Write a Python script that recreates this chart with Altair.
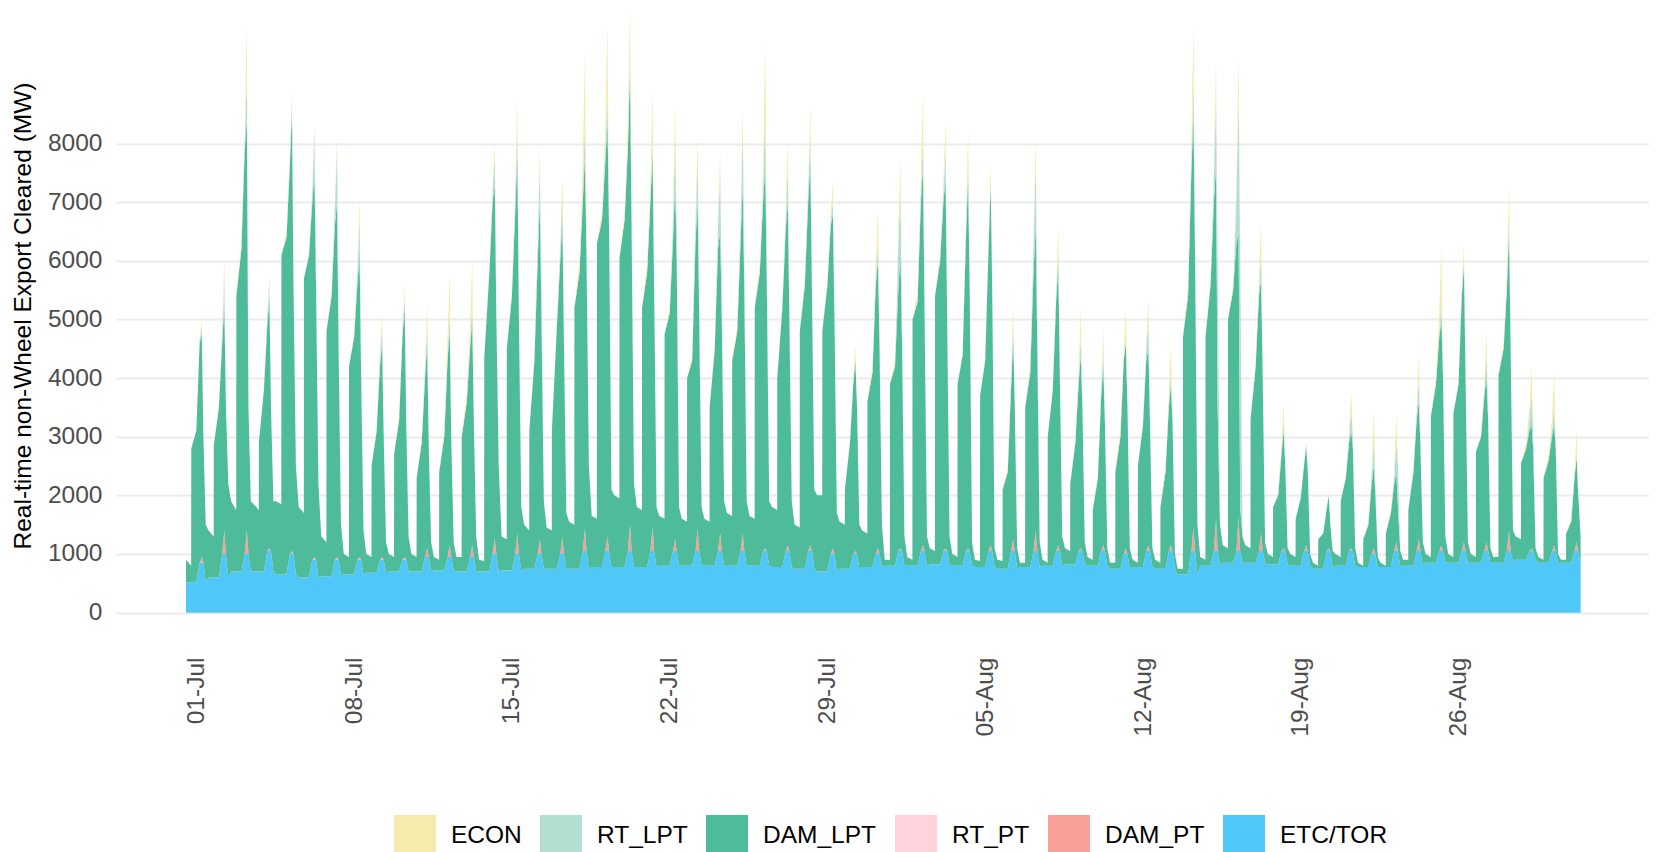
import altair as alt
import pandas as pd

# ---------------- data ----------------
SERIES = ["ECON", "RT_LPT", "DAM_LPT", "RT_PT", "DAM_PT", "ETC/TOR"]
COLORS = ["#F4EBAD", "#B3DFD3", "#4EBB9B", "#FFD2DC", "#F8A199", "#4FC7F7"]
STACK_ORDER = {"ETC/TOR": 0, "DAM_PT": 1, "RT_PT": 2, "DAM_LPT": 3, "RT_LPT": 4, "ECON": 5}

# sample hours within each day (local time)
HOURS = [0, 5.5, 5.6, 11, 14.5, 16.8, 18.5, 21]

TICK_DAYS = [0.4625, 7.4625, 14.4625, 21.4625, 28.4625, 35.4625, 42.4625, 49.4625, 56.4625]
TICK_LABELS = ["01-Jul", "08-Jul", "15-Jul", "22-Jul", "29-Jul", "05-Aug", "12-Aug", "19-Aug", "26-Aug"]
Y_TICKS = [0, 1000, 2000, 3000, 4000, 5000, 6000, 7000, 8000]

# top of the DAM_LPT layer (MW) at the HOURS above, one row per day
GREEN_TOP = [
    [900, 800, 2800, 3100, 4600, 4750, 3000, 1500],
    [1400, 1300, 2850, 3500, 4600, 5250, 3500, 2200],
    [1900, 1750, 5400, 6200, 7900, 8400, 3500, 1900],
    [1850, 1750, 2900, 3800, 4900, 5350, 3500, 1900],
    [1900, 1850, 6100, 6400, 7600, 8550, 5500, 2500],
    [1800, 1700, 5700, 6100, 7000, 7500, 5500, 2200],
    [1300, 1200, 4800, 5400, 6600, 7000, 4500, 1500],
    [1000, 950, 4200, 4700, 5600, 6100, 4000, 1400],
    [1000, 950, 2500, 3100, 4200, 4600, 3000, 1200],
    [1000, 950, 2700, 3300, 4700, 5250, 3200, 1300],
    [1000, 950, 2300, 2900, 4000, 4600, 2800, 1200],
    [950, 900, 2400, 3000, 4300, 4800, 2900, 1200],
    [950, 950, 3000, 3600, 4500, 5000, 3200, 1300],
    [900, 880, 4350, 5800, 7000, 7300, 5000, 2500],
    [1300, 1250, 4500, 5400, 6800, 7800, 5000, 1800],
    [1500, 1400, 3100, 4300, 6000, 7000, 5000, 1900],
    [1450, 1400, 3100, 4900, 6000, 6700, 4500, 1700],
    [1550, 1500, 5200, 5800, 7000, 7800, 6000, 2500],
    [1650, 1600, 6300, 6700, 7700, 8350, 6500, 2100],
    [2000, 1950, 6050, 6700, 7900, 9250, 6500, 2200],
    [1800, 1750, 5200, 5800, 7000, 7850, 5500, 1800],
    [1650, 1600, 4750, 5100, 6300, 7300, 6000, 1800],
    [1600, 1550, 4000, 4300, 6300, 7000, 5000, 1800],
    [1600, 1550, 3500, 4500, 6200, 6500, 5000, 1900],
    [1700, 1650, 4300, 4800, 6300, 7300, 5500, 1900],
    [1650, 1600, 5200, 5800, 7000, 7600, 5500, 1900],
    [1800, 1750, 4000, 5200, 6500, 7000, 5000, 1900],
    [1500, 1450, 4800, 5600, 7000, 7700, 5500, 2100],
    [2000, 2000, 4800, 5600, 6600, 6800, 5000, 1700],
    [1550, 1500, 2100, 2900, 3900, 4300, 3500, 1500],
    [1400, 1350, 3600, 4100, 5600, 6000, 4500, 1500],
    [900, 900, 3900, 4200, 5500, 6100, 4500, 1300],
    [950, 900, 5000, 5300, 7000, 7600, 5000, 1300],
    [1100, 1050, 5400, 6000, 7000, 7400, 5000, 1300],
    [1000, 950, 3900, 4400, 6400, 7400, 5500, 1200],
    [900, 880, 3700, 4300, 6200, 7300, 5500, 1100],
    [900, 880, 2100, 2400, 3800, 4700, 3500, 1100],
    [850, 850, 3500, 4100, 5800, 6600, 4500, 1200],
    [900, 850, 3000, 3800, 5300, 5900, 4000, 1300],
    [1100, 1050, 2200, 2900, 3900, 4400, 3500, 1200],
    [950, 900, 1750, 2300, 3700, 4200, 3200, 1100],
    [850, 850, 2400, 3000, 4300, 4600, 3500, 1100],
    [900, 850, 2500, 3200, 4300, 4500, 3200, 1100],
    [900, 850, 1800, 2400, 3500, 3900, 3200, 1000],
    [750, 750, 4700, 5400, 7500, 8500, 6000, 1500],
    [950, 900, 4700, 5600, 7000, 7600, 3500, 1500],
    [1150, 1100, 5000, 5500, 6300, 6500, 1800, 1300],
    [1150, 1100, 3300, 4200, 5400, 5700, 4000, 1200],
    [1000, 950, 1800, 2000, 2700, 3100, 2500, 1100],
    [1000, 950, 1600, 1950, 2500, 2850, 2400, 1000],
    [850, 800, 1250, 1350, 1750, 2000, 1500, 1050],
    [1000, 950, 1900, 2300, 2900, 3100, 2800, 1100],
    [850, 800, 1250, 1500, 2200, 2500, 2000, 950],
    [850, 800, 1350, 1700, 2200, 2400, 1800, 1050],
    [900, 900, 1750, 2400, 3300, 3600, 2800, 1200],
    [1000, 950, 3350, 3900, 4700, 5000, 4000, 1300],
    [1000, 950, 3400, 3900, 5400, 5900, 4000, 1200],
    [1000, 950, 2750, 3000, 3700, 4000, 3300, 1100],
    [950, 950, 4050, 4500, 5500, 6500, 4500, 1400],
    [1300, 1250, 2550, 2800, 3100, 3200, 2800, 1100],
    [950, 900, 2300, 2600, 3000, 3200, 2800, 1000],
    [900, 900, 1350, 1550, 2300, 2650, 2000, 1300],
]

# ETC/TOR level overnight and around the daily peak
ETC_NIGHT = [520, 600, 700, 700, 650, 600, 620, 650, 680, 700, 700, 720, 700, 700, 720, 750,
             750, 750, 780, 780, 780, 800, 800, 800, 800, 800, 780, 750, 700, 750, 780, 800,
             800, 820, 800, 780, 750, 780, 800, 820, 800, 750, 780, 750, 650, 800, 850, 850,
             820, 800, 750, 800, 780, 780, 800, 850, 850, 850, 850, 900, 850, 850]
ETC_PEAK = [850, 1000, 1000, 1050, 1000, 900, 900, 900, 900, 900, 950, 950, 950, 1000, 1000, 1000,
            1000, 1050, 1050, 1050, 1050, 1050, 1050, 1050, 1050, 1050, 1050, 1050, 1000, 1000, 1000, 1050,
            1050, 1050, 1050, 1050, 1050, 1050, 1050, 1050, 1050, 1000, 1050, 1050, 1050, 1050, 1050, 1050,
            1050, 1050, 1050, 1050, 1000, 1050, 1050, 1050, 1050, 1050, 1050, 1050, 1050, 1050]
# DAM_PT bump at the daily peak
DAM_PT_PEAK = [100, 400, 400, 50, 50, 50, 50, 50, 50, 50, 150, 200, 200, 270, 350, 250,
               300, 380, 250, 450, 400, 200, 380, 300, 300, 50, 100, 100, 100, 50, 100, 50,
               100, 50, 50, 100, 200, 350, 100, 50, 100, 100, 100, 100, 400, 550, 600, 300,
               50, 100, 50, 50, 100, 150, 200, 100, 150, 150, 350, 50, 100, 150]
# RT_LPT at 14.5h, 16.8h, 18.5h
RT_LPT_VALS = [
    [50, 150, 0], [100, 500, 0], [100, 750, 0], [100, 300, 0], [0, 100, 0], [200, 700, 300],
    [300, 900, 300], [200, 650, 200], [100, 300, 0], [50, 150, 0], [100, 300, 0], [100, 300, 0],
    [100, 300, 0], [200, 500, 100], [200, 500, 200], [300, 700, 400], [200, 500, 200], [200, 500, 200],
    [200, 500, 200], [100, 200, 100], [50, 100, 0], [300, 800, 500], [300, 700, 400], [400, 1000, 500],
    [300, 900, 500], [300, 950, 300], [200, 600, 200], [200, 500, 200], [100, 200, 0], [0, 50, 0],
    [100, 300, 100], [800, 1100, 300], [200, 450, 100], [200, 500, 100], [100, 400, 100], [0, 100, 0],
    [100, 200, 0], [500, 1100, 400], [100, 350, 100], [100, 300, 0], [100, 300, 0], [0, 100, 0],
    [200, 500, 100], [50, 200, 0], [200, 600, 200], [400, 1200, 2500], [800, 2300, 4300], [100, 400, 100],
    [50, 150, 0], [0, 0, 0], [0, 0, 0], [100, 350, 200], [100, 450, 100], [100, 500, 700],
    [100, 400, 100], [100, 300, 100], [50, 150, 0], [100, 400, 100], [100, 200, 100], [200, 500, 300],
    [100, 300, 100], [0, 50, 0],
]
# ECON at 11h, 14.5h, 16.8h
ECON_VALS = [
    [0, 50, 100], [50, 100, 300], [100, 150, 900], [0, 50, 100], [100, 150, 250], [50, 100, 150],
    [50, 100, 250], [50, 100, 300], [50, 100, 200], [50, 100, 200], [100, 200, 400], [150, 300, 700],
    [150, 300, 750], [50, 100, 200], [100, 200, 500], [50, 100, 300], [50, 150, 300], [200, 500, 1300],
    [150, 400, 1200], [100, 300, 900], [150, 300, 950], [100, 200, 600], [100, 150, 450], [50, 150, 350],
    [100, 150, 450], [150, 300, 1250], [50, 150, 400], [100, 150, 450], [50, 100, 350], [50, 100, 200],
    [100, 200, 600], [100, 200, 550], [150, 300, 850], [100, 150, 500], [50, 150, 450], [50, 100, 300],
    [50, 150, 400], [100, 150, 450], [50, 100, 350], [100, 150, 500], [50, 100, 350], [100, 150, 500],
    [50, 100, 350], [100, 150, 500], [150, 300, 1000], [100, 200, 650], [100, 200, 750], [100, 200, 600],
    [50, 100, 350], [0, 0, 50], [0, 0, 50], [50, 100, 350], [50, 100, 500], [50, 100, 500],
    [50, 100, 400], [150, 300, 950], [50, 100, 250], [50, 100, 400], [100, 200, 600], [100, 200, 500],
    [100, 200, 600], [50, 100, 400],
]

# ---------------- build long table ----------------
rows = []
for d, green in enumerate(GREEN_TOP):
    for i, h in enumerate(HOURS):
        t = d + h / 24.0
        etc = ETC_PEAK[d] if i in (4, 5, 6) else ETC_NIGHT[d]
        dpt = DAM_PT_PEAK[d] if i == 5 else 0
        rtpt = 0
        dlpt = max(green[i] - etc - dpt, 0)
        rlpt = RT_LPT_VALS[d][i - 4] if i in (4, 5, 6) else 0
        econ = ECON_VALS[d][i - 3] if i in (3, 4, 5) else 0
        for name, v in (("ETC/TOR", etc), ("DAM_PT", dpt), ("RT_PT", rtpt),
                        ("DAM_LPT", dlpt), ("RT_LPT", rlpt), ("ECON", econ)):
            rows.append({"t": t, "series": name, "mw": v, "ord": STACK_ORDER[name]})
df = pd.DataFrame(rows)

FONT = "Liberation Sans"
label_expr = "[" + ",".join("'%s'" % s for s in TICK_LABELS) + "][round((datum.value - 0.4625) / 7)]"

chart = alt.Chart(df).mark_area(interpolate="linear", opacity=1).encode(
    x=alt.X("t:Q", scale=alt.Scale(domain=[-3.106, 64.91], nice=False, zero=False),
            axis=alt.Axis(values=TICK_DAYS, labelExpr=label_expr, title=None,
                          labelAngle=270, labelAlign="right", labelBaseline="middle",
                          labelFontSize=24.5, labelFont=FONT, labelColor="#4D4D4D",
                          labelPadding=14, ticks=False, domain=False, grid=False,
                          labelOverlap=False, labelFlush=False)),
    y=alt.Y("mw:Q", stack="zero", scale=alt.Scale(domain=[-518, 10312], nice=False, zero=False),
            axis=alt.Axis(values=Y_TICKS, format="d", title="Real-time non-Wheel Export Cleared (MW)",
                          titleFontSize=24.5, titleFont=FONT, titleFontWeight="normal",
                          titleColor="#000000", titleAngle=270, titleX=-93, titleY=307.5,
                          titleAlign="center", titleBaseline="middle",
                          labelFontSize=24.5, labelFont=FONT, labelColor="#4D4D4D",
                          labelPadding=14, ticks=False, domain=False, grid=True,
                          gridColor="#EBEBEB", gridWidth=2, labelOverlap=False, labelFlush=False)),
    color=alt.Color("series:N", scale=alt.Scale(domain=SERIES, range=COLORS),
                    legend=alt.Legend(orient="none", legendX=278, legendY=807, direction="horizontal",
                                      title=None, symbolType="square", symbolSize=1764,
                                      symbolStrokeWidth=0, symbolOpacity=1,
                                      labelFontSize=24.5, labelFont=FONT, labelColor="#000000",
                                      labelOffset=15, columnPadding=18, padding=0, labelLimit=0)),
    order=alt.Order("ord:Q", sort="ascending"),
).properties(
    width=1533, height=635,
    autosize=alt.AutoSizeParams(type="none"),
    padding={"left": 108, "top": 0, "right": 0, "bottom": 209},
    background="white",
).configure_view(stroke=None)

chart.save("out.html", embed_options={"renderer": "svg", "actions": False})
